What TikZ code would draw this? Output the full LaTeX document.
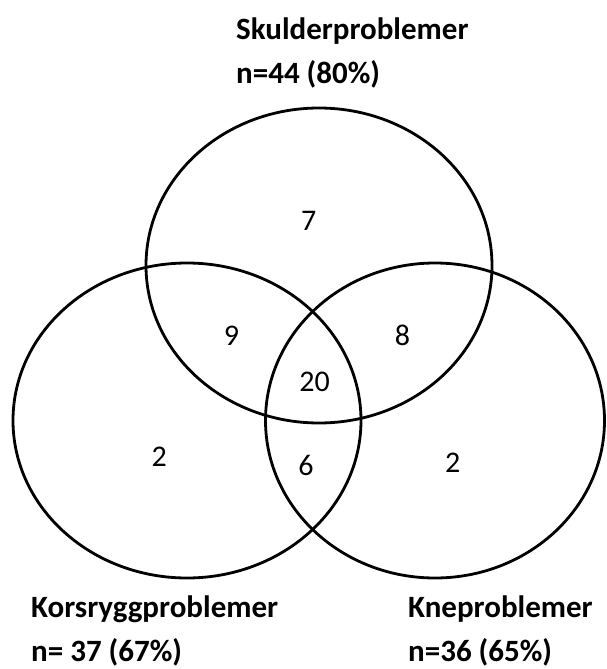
\documentclass[tikz,border=0pt]{standalone}
\usepackage{fontspec}
\setmainfont{Carlito}
\begin{document}
\begin{tikzpicture}[x=1pt,y=-1pt,
  ring/.style={line width=2.8pt},
  title/.style={font=\fontsize{31}{31}\selectfont\bfseries, anchor=base west, inner sep=0pt},
  count/.style={font=\fontsize{30}{30}\selectfont, inner sep=0pt}]
\useasboundingbox (0,0) rectangle (606,669);
% circles
\draw[ring] (319,265.5) ellipse [x radius=173, y radius=157.5];
\draw[ring] (187,420.5) ellipse [x radius=174, y radius=157.5];
\draw[ring] (435,420.5) ellipse [x radius=169.5, y radius=157.5];
% labels
\node[title] (sk) at (236,39.5) {Skulderproblemer};
\node[title] (skn) at (236,83) {n=44 (80\%)};
\node[title] (ko) at (31,617) {Korsryggproblemer};
\node[title] (kon) at (31,661) {n= 37 (67\%)};
\node[title] (kn) at (408,617) {Kneproblemer};
\node[title] (knn) at (408,661) {n=36 (65\%)};
% counts
\node[count] (c7) at (308.6,220.7) {7};
\node[count] (c9) at (231.5,335.5) {9};
\node[count] (c8) at (402.4,335.5) {8};
\node[count] (c20) at (314.5,382.3) {20};
\node[count] (c2a) at (159.3,456.7) {2};
\node[count] (c6) at (306,465) {6};
\node[count] (c2b) at (452.6,463) {2};
\end{tikzpicture}
\end{document}
